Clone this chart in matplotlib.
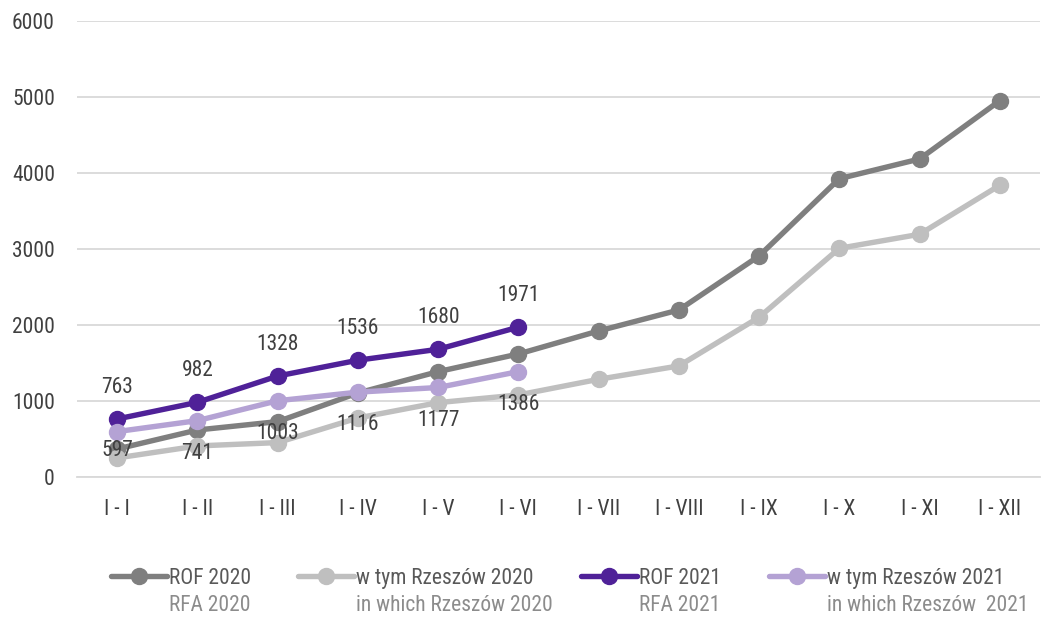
import matplotlib
matplotlib.use("Agg")
import matplotlib.pyplot as plt
from matplotlib import font_manager

# pick a narrow font if one is installed
names = {f.name for f in font_manager.fontManager.ttflist}
for fam in ["Liberation Sans Narrow", "Roboto Condensed", "Open Sans Condensed", "Roboto"]:
    if fam in names:
        plt.rcParams["font.family"] = [fam, "DejaVu Sans"]
        break

months = ["I - I", "I - II", "I - III", "I - IV", "I - V", "I - VI",
          "I - VII", "I - VIII", "I - IX", "I - X", "I - XI", "I - XII"]
rof_2020 = [368, 618, 728, 1105, 1386, 1618, 1921, 2197, 2908, 3925, 4184, 4951]
rze_2020 = [250, 408, 452, 776, 978, 1079, 1285, 1461, 2101, 3009, 3193, 3838]
rof_2021 = [763, 982, 1328, 1536, 1680, 1971]
rze_2021 = [597, 741, 1003, 1116, 1177, 1386]

labels_top = ["ROF 2020", "w tym Rzeszów 2020", "ROF 2021", "w tym Rzeszów 2021"]
labels_bottom = ["RFA 2020", "in which Rzeszów 2020", "RFA 2021", "in which Rzeszów  2021"]
colors = ["#7f7f7f", "#bfbfbf", "#4f2198", "#b4a2d4"]

fs = 15.5

fig = plt.figure(figsize=(10.42, 6.17), dpi=100)
ax = fig.add_axes([0.074, 0.227, 0.924, 0.739])

x_all = list(range(len(months)))
series = [rof_2020, rze_2020, rof_2021, rze_2021]
handles = []
for vals, col, lab in zip(series, colors, labels_top):
    h, = ax.plot(x_all[:len(vals)], vals, color=col, lw=3.9, marker="o",
                 markersize=11.5, label=lab, zorder=3, solid_capstyle="round")
    handles.append(h)

# data labels for 2021 series
for i, v in enumerate(rof_2021):
    ax.annotate(str(v), (i, v), xytext=(0, 15), textcoords="offset points",
                ha="center", va="bottom", fontsize=fs, color="#404040")
for i, v in enumerate(rze_2021):
    # first label is pushed up so it stays inside the plot area
    dy = -6 if i == 0 else -16
    ax.annotate(str(v), (i, v), xytext=(0, dy), textcoords="offset points",
                ha="center", va="top", fontsize=fs, color="#404040")

ax.set_xlim(-0.5, len(months) - 0.5)
ax.set_ylim(0, 6000)
ax.set_yticks(range(0, 6001, 1000))
ax.set_xticks(x_all)
ax.set_xticklabels(months)
ax.tick_params(axis="both", length=0, labelsize=fs, colors="#404040")
ax.tick_params(axis="x", pad=16)
ax.tick_params(axis="y", pad=16)
ax.grid(axis="y", color="#d9d9d9", lw=1.3)
ax.set_axisbelow(True)
for s in ["top", "right", "left"]:
    ax.spines[s].set_visible(False)
ax.spines["bottom"].set_color("#d9d9d9")
ax.spines["bottom"].set_linewidth(1.3)

leg = fig.legend(handles=handles, loc="center", bbox_to_anchor=(0.535, 0.063),
                 ncol=4, frameon=False, fontsize=fs, handlelength=2.6,
                 handletextpad=0.1, columnspacing=2.2, labelcolor="#595959")

fig.canvas.draw()
inv = fig.transFigure.inverted()
for t, sub in zip(leg.get_texts(), labels_bottom):
    bb = t.get_window_extent()
    x0, y0 = inv.transform((bb.x0, bb.y0))
    fig.text(x0, y0 - 0.01, sub, ha="left", va="top", fontsize=fs, color="#8c8c8c")

fig.savefig("out.png", dpi=100)
